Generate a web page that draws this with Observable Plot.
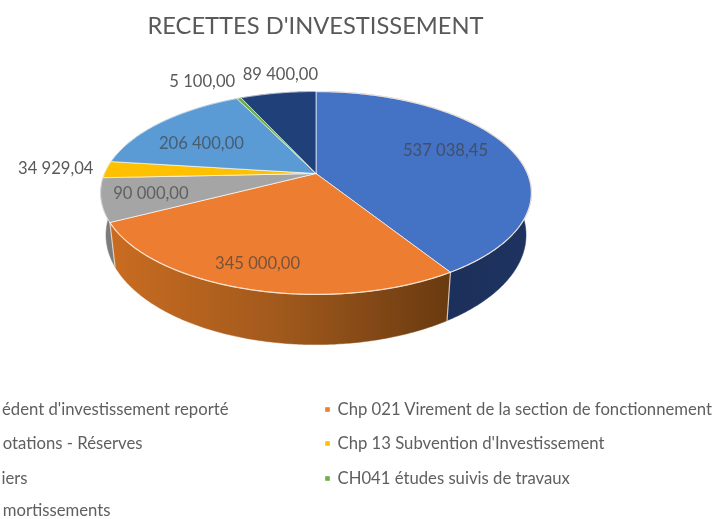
<!DOCTYPE html>
<html lang="fr">
<head>
<meta charset="utf-8">
<script src="https://cdn.jsdelivr.net/npm/d3@7"></script>
<script src="https://cdn.jsdelivr.net/npm/@observablehq/plot@0.6"></script>
<style>
  html, body { margin: 0; padding: 0; background: #fff; overflow: hidden; }
  svg { display: block; font-family: Lato, "Open Sans", sans-serif; filter: blur(0.6px); }
</style>
</head>
<body>
<script>
const titleText = "RECETTES D'INVESTISSEMENT";
const categories = [
  "édent d'investissement reporté",
  "Chp 021 Virement de la section de fonctionnement",
  "otations - Réserves",
  "Chp 13 Subvention d'Investissement",
  "iers",
  "CH041 études suivis de travaux",
  "mortissements"
];
const values = [537038.45, 345000, 90000, 34929.04, 206400, 5100, 89400];
const valueLabels = ["537 038,45", "345 000,00", "90 000,00", "34 929,04", "206 400,00", "5 100,00", "89 400,00"];
const colors = ["#4472c4", "#ed7d31", "#a5a5a5", "#ffc000", "#5b9bd5", "#70ad47", "#20407a"];

// Layout of the tilted pie (perspective projection of a unit disc)
const W = 728, H = 519;
const pie = {cx: 315.5, cy: 173, a: 211.4, b: 64.5, p: 0.192, depth: 40.5, narrow: 0.975};
const labelRadius = [0.75, 0.8, 0.8, 1.22, 0.7, 1.2, 1.2];
const labelNudge = [[-17,-3.5],[-6,1.5],[5,-1],[-5,0],[-3,7],[-24,-4],[8.5,-5.5]];
const labelInside = [true, true, true, false, true, false, false];
const legendEndX = [228, null, 142, null, 27, null, 110];
const legendStartX = 337, legendMarkX = 327;
const legendRowY = [409, 443, 478, 510];
const sideFill = ["url(#sideBlue)", "url(#sideOrange)", "#7c7c7c", "#b38600", "#3f6e99", "#4f7a32", "#1a2f54"];

function project(theta, r = 1, bottom = false) {
  const u = Math.sin(theta) * r, v = -Math.cos(theta) * r;
  const w = 1 - pie.p * v;
  const k = bottom ? pie.narrow : 1;
  return [pie.cx + k * pie.a * u / w, (pie.b * v + pie.cy + (bottom ? pie.depth : 0)) / w];
}

const total = d3.sum(values);
const bounds = [0, ...d3.cumsum(values)].map(c => c / total * 2 * Math.PI);
const arcAngles = (a0, a1) => {
  const n = Math.max(2, Math.ceil((a1 - a0) / 0.01));
  return d3.range(n + 1).map(i => a0 + (a1 - a0) * i / n);
};

const topFaces = categories.flatMap((name, i) => {
  const rim = arcAngles(bounds[i], bounds[i + 1]).map(t => project(t));
  return [project(0, 0), ...rim, project(0, 0)].map(([x, y]) => ({name, x, y}));
});
const sideFaces = categories.map((name, i) => {
  const angles = arcAngles(bounds[i], bounds[i + 1]);
  return [...angles.map(t => project(t)), ...angles.slice().reverse().map(t => project(t, 1, true))]
    .map(([x, y]) => ({name, x, y}));
});
const rimLine = d3.range(1, 3).map(i => arcAngles(bounds[i - 1], bounds[i]).map(t => project(t))
  .map(([x, y]) => ({i, x, y}))).flat();
const edges = [1, 2].flatMap(i => [project(bounds[i]), project(bounds[i], 1, true)].map(([x, y]) => ({i, x, y})));

const labels = categories.map((name, i) => {
  const [x, y] = project((bounds[i] + bounds[i + 1]) / 2, labelRadius[i]);
  return {text: valueLabels[i], inside: labelInside[i], x: x + labelNudge[i][0], y: y + labelNudge[i][1]};
});
const legend = categories.map((name, i) => ({
  name, right: i % 2 === 1, y: legendRowY[Math.floor(i / 2)],
  x: i % 2 === 1 ? legendStartX : legendEndX[i]
}));

const chart = Plot.plot({
  width: W, height: H, margin: 0,
  style: {background: "#fff"},
  x: {domain: [0, W], range: [0, W], axis: null},
  y: {domain: [0, H], range: [0, H], axis: null},
  color: {domain: categories, range: colors},
  marks: [
    ...sideFaces.map((d, i) => Plot.line(d, {x: "x", y: "y", fill: sideFill[i], stroke: sideFill[i], strokeWidth: 0.5})),
    Plot.line(edges, {x: "x", y: "y", z: "i", stroke: "#f3e3d6", strokeWidth: 1.2, strokeOpacity: 0.8}),
    Plot.line(topFaces, {x: "x", y: "y", z: "name", fill: "name", stroke: "#ffffff", strokeOpacity: 0.65, strokeWidth: 1}),
    Plot.line(rimLine, {x: "x", y: "y", z: "i", stroke: "#ffe9d8", strokeWidth: 1.2, strokeOpacity: 0.75}),
    Plot.text([titleText], {x: () => 315, y: () => 26, text: d => d, fontSize: 23.7, fill: "#595959"}),
    Plot.text(labels.filter(d => !d.inside), {x: "x", y: "y", text: "text", fontSize: 16.6, fill: "#595959"}),
    Plot.text(labels.filter(d => d.inside), {x: "x", y: "y", text: "text", fontSize: 16.6, fill: "#404040", fillOpacity: 0.68}),
    Plot.dot(legend.filter(d => d.right), {x: () => legendMarkX, y: "y", fill: "name", symbol: "square", r: 2.6}),
    Plot.text(legend.filter(d => d.right), {x: "x", y: "y", text: "name", textAnchor: "start", fontSize: 16.7, fill: "#5f5f5f"}),
    Plot.text(legend.filter(d => !d.right), {x: "x", y: "y", text: "name", textAnchor: "end", fontSize: 16.7, fill: "#5f5f5f"})
  ]
});

d3.select(chart).insert("defs", ":first-child").html(`
  <linearGradient id="sideOrange" x1="0" x2="1" y1="0" y2="0">
    <stop offset="0" stop-color="#c96c21"/><stop offset="0.5" stop-color="#a1591c"/><stop offset="1" stop-color="#693a10"/>
  </linearGradient>
  <linearGradient id="sideBlue" x1="0" x2="1" y1="0" y2="0">
    <stop offset="0" stop-color="#172a50"/><stop offset="1" stop-color="#1e3360"/>
  </linearGradient>`);
document.body.append(chart);
</script>
</body>
</html>
